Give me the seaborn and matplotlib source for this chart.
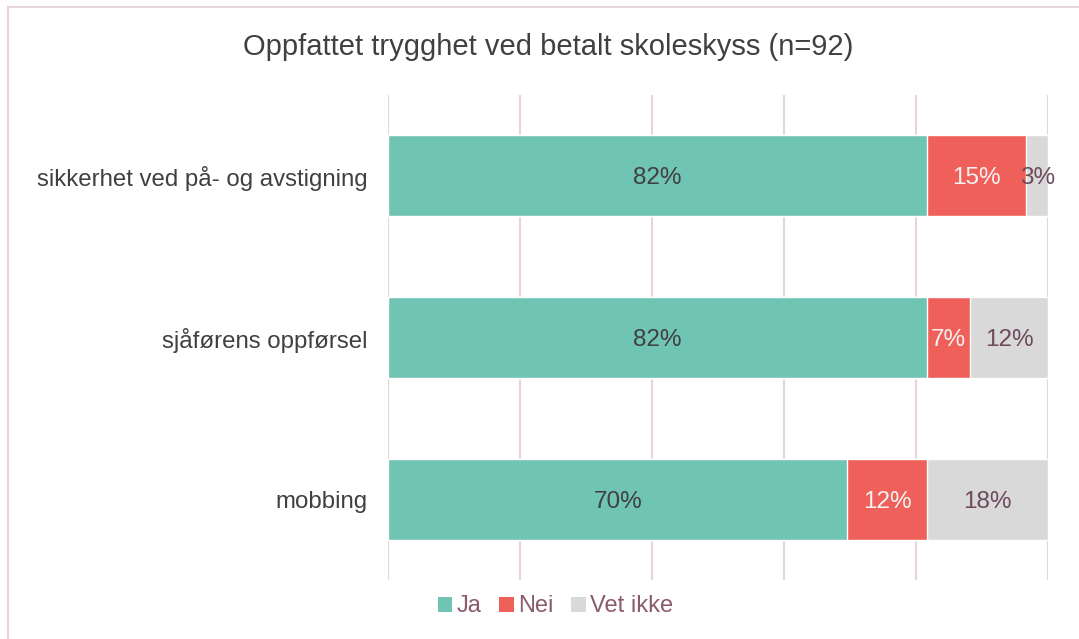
import matplotlib
matplotlib.use("Agg")
import matplotlib.pyplot as plt
import seaborn as sns
import pandas as pd
import numpy as np
from matplotlib.patches import Patch, Rectangle

categories = ["sikkerhet ved på- og avstigning", "sjåførens oppførsel", "mobbing"]
series = ["Ja", "Nei", "Vet ikke"]
ja = [81.7, 81.6, 69.6]
nei = [15.0, 6.6, 12.0]
vet_ikke = [3.3, 11.8, 18.4]
colors = ["#70C4B4", "#F0605A", "#D9D9D9"]
label_colors = ["#404040", "#F2F2F2", "#6E4A5C"]
title = "Oppfattet trygghet ved betalt skoleskyss (n=92)"

sns.set_theme(style="white")
plt.rcParams["font.family"] = ["Liberation Sans", "DejaVu Sans"]

fig = plt.figure(figsize=(10.79, 6.39), dpi=100)
ax = fig.add_axes([0.3596, 0.0923, 0.6117, 0.759])

vals = [np.array(ja), np.array(nei), np.array(vet_ikke)]
cum = np.cumsum(vals, axis=0)
# draw from the largest cumulative down so each segment is visible
for i in range(len(series) - 1, -1, -1):
    df = pd.DataFrame({"cat": categories, "val": cum[i]})
    sns.barplot(data=df, y="cat", x="val", orient="y", color=colors[i],
                saturation=1, width=0.5, edgecolor="white", linewidth=1.0, ax=ax)

for i in range(len(series)):
    starts = cum[i] - vals[i]
    for j, cat in enumerate(categories):
        ax.text(starts[j] + vals[i][j] / 2, j, f"{vals[i][j]:.0f}%",
                ha="center", va="center_baseline", fontsize=17.5, color=label_colors[i])

ax.set_xlim(0, 100)
ax.set_ylim(2.5, -0.5)
ax.set_xticks([0, 20, 40, 60, 80, 100])
ax.set_xticklabels([])
ax.xaxis.grid(True, color="#E6D6DA", linewidth=1.6)
ax.set_axisbelow(True)
ax.set_xlabel("")
ax.set_ylabel("")
for s in ax.spines.values():
    s.set_visible(False)
ax.tick_params(axis="y", length=0, labelsize=17.3, labelcolor="#404040", pad=15)
ax.tick_params(axis="x", length=0)

fig.suptitle(title, x=0.508, y=0.948, fontsize=21, color="#404040")

handles = [Patch(facecolor=c, edgecolor="none") for c in colors]
leg = fig.legend(handles, series, loc="center", bbox_to_anchor=(0.515, 0.051), ncol=3,
                 frameon=False, fontsize=17, handlelength=0.6, handleheight=0.6,
                 handletextpad=0.2, columnspacing=0.75)
for t in leg.get_texts():
    t.set_color("#8A5A6E")

fig.patches.append(Rectangle((0.0075, -0.1), 1.2, 1.089, transform=fig.transFigure,
                             fill=False, edgecolor="#E6D6DA", linewidth=1.5))

fig.savefig("out.png", dpi=100)
